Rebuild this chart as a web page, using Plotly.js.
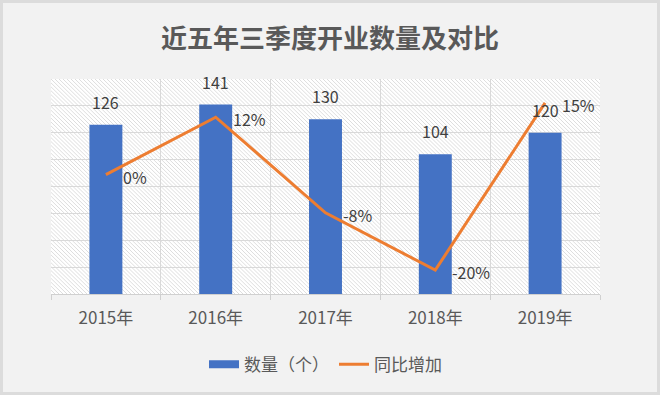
<!DOCTYPE html>
<html>
<head>
<meta charset="utf-8">
<script src="https://cdn.plot.ly/plotly-3.0.1.min.js"></script>
<style>
html,body{margin:0;padding:0;background:#f2f2f2;}
#wrap{position:relative;width:660px;height:395px;}
#chart{width:660px;height:395px;}
#frame{position:absolute;left:0;top:0;width:660px;height:395px;box-sizing:border-box;border:3px solid #dcdcdc;pointer-events:none;}
</style>
</head>
<body>
<div id="wrap"><div id="chart"></div><div id="frame"></div></div>
<script>
const categories = ['2015年', '2016年', '2017年', '2018年', '2019年'];
const counts = [126, 141, 130, 104, 120];
const yoy = [0.0, 0.12, -0.08, -0.20, 0.15];
const yoyLabels = ['0%', '12%', '-8%', '-20%', '15%'];
const seriesNames = ['数量（个）', '同比增加'];
const titleText = '近五年三季度开业数量及对比';

const FONT = '"Noto Sans CJK SC", "Noto Sans", sans-serif';
const BLUE = '#4472c4';
const ORANGE = '#ed7d31';

// hatch background for plot area
const W = 549, H = 220;
const svg = `<svg xmlns="http://www.w3.org/2000/svg" width="${W}" height="${H}" viewBox="0 0 ${W} ${H}">` +
  `<defs><pattern id="p" width="4" height="4" patternUnits="userSpaceOnUse">` +
  `<rect width="4" height="4" fill="#ffffff"/>` +
  `<path d="M-1,-1 L5,5 M-1,3 L1,5 M3,-1 L5,1" stroke="#d9d9d9" stroke-width="0.9"/>` +
  `</pattern></defs><rect width="${W}" height="${H}" fill="url(#p)"/></svg>`;
const hatchURI = 'data:image/svg+xml;charset=utf-8,' + encodeURIComponent(svg);

const traces = [
  {
    type: 'bar', x: categories, y: counts, name: seriesNames[0],
    marker: {color: BLUE}, showlegend: false, yaxis: 'y', hoverinfo: 'none'
  },
  {
    type: 'scatter', mode: 'lines', x: categories, y: yoy, name: seriesNames[1],
    line: {color: ORANGE, width: 3}, yaxis: 'y2', showlegend: false, hoverinfo: 'none'
  },
  // legend proxies
  {type: 'scatter', mode: 'lines', x: [null], y: [null], name: seriesNames[0],
   line: {color: BLUE, width: 8}, showlegend: true, yaxis: 'y'},
  {type: 'scatter', mode: 'lines', x: [null], y: [null], name: seriesNames[1],
   line: {color: ORANGE, width: 3}, showlegend: true, yaxis: 'y'}
];

const annotations = [];
categories.forEach((c, i) => {
  annotations.push({
    x: c, y: counts[i], xref: 'x', yref: 'y', text: String(counts[i]),
    showarrow: false, yanchor: 'bottom', yshift: 9,
    font: {family: FONT, size: 16, color: '#404040'}
  });
  annotations.push({
    x: c, y: yoy[i], xref: 'x', yref: 'y2', text: yoyLabels[i],
    showarrow: false, xanchor: 'left', yanchor: 'middle', xshift: 15, yshift: -2,
    font: {family: FONT, size: 16, color: '#404040'}
  });
});

const layout = {
  width: 660, height: 395,
  paper_bgcolor: '#f2f2f2',
  plot_bgcolor: 'rgba(0,0,0,0)',
  margin: {l: 51, r: 60, t: 79, b: 96, pad: 0},
  title: {
    text: '<b>' + titleText + '</b>',
    font: {family: FONT, size: 26, color: '#595959'},
    x: 0.5, xanchor: 'center', y: 0.902, yanchor: 'middle'
  },
  bargap: 0.7,
  xaxis: {
    type: 'category',
    tickson: 'boundaries',
    showgrid: true, gridcolor: '#d9d9d9', gridwidth: 1,
    showline: true, linecolor: '#d0d0d0', linewidth: 1,
    ticks: 'outside', ticklen: 5, tickcolor: '#d0d0d0',
    ticklabelstandoff: 9,
    tickfont: {family: FONT, size: 17, color: '#595959'},
    range: [-0.5, 4.5], fixedrange: true
  },
  yaxis: {
    range: [0, 160], dtick: 20, showticklabels: false,
    showgrid: true, gridcolor: '#d9d9d9', gridwidth: 1,
    zeroline: false, showline: false, ticks: ''
  },
  yaxis2: {
    overlaying: 'y', side: 'right', range: [-0.25, 0.20],
    showgrid: false, showticklabels: false, zeroline: false, showline: false
  },
  legend: {
    orientation: 'h', x: 0.5, xanchor: 'center', y: -0.245, yanchor: 'top',
    font: {family: FONT, size: 17, color: '#595959'},
    bgcolor: 'rgba(0,0,0,0)', itemwidth: 30, traceorder: 'normal'
  },
  images: [{
    source: hatchURI, xref: 'paper', yref: 'paper', x: 0, y: 1,
    sizex: 1, sizey: 1, xanchor: 'left', yanchor: 'top',
    sizing: 'stretch', layer: 'below'
  }],
  annotations: annotations,
  showlegend: true
};

Plotly.newPlot('chart', traces, layout, {displayModeBar: false, staticPlot: true});
</script>
</body>
</html>
